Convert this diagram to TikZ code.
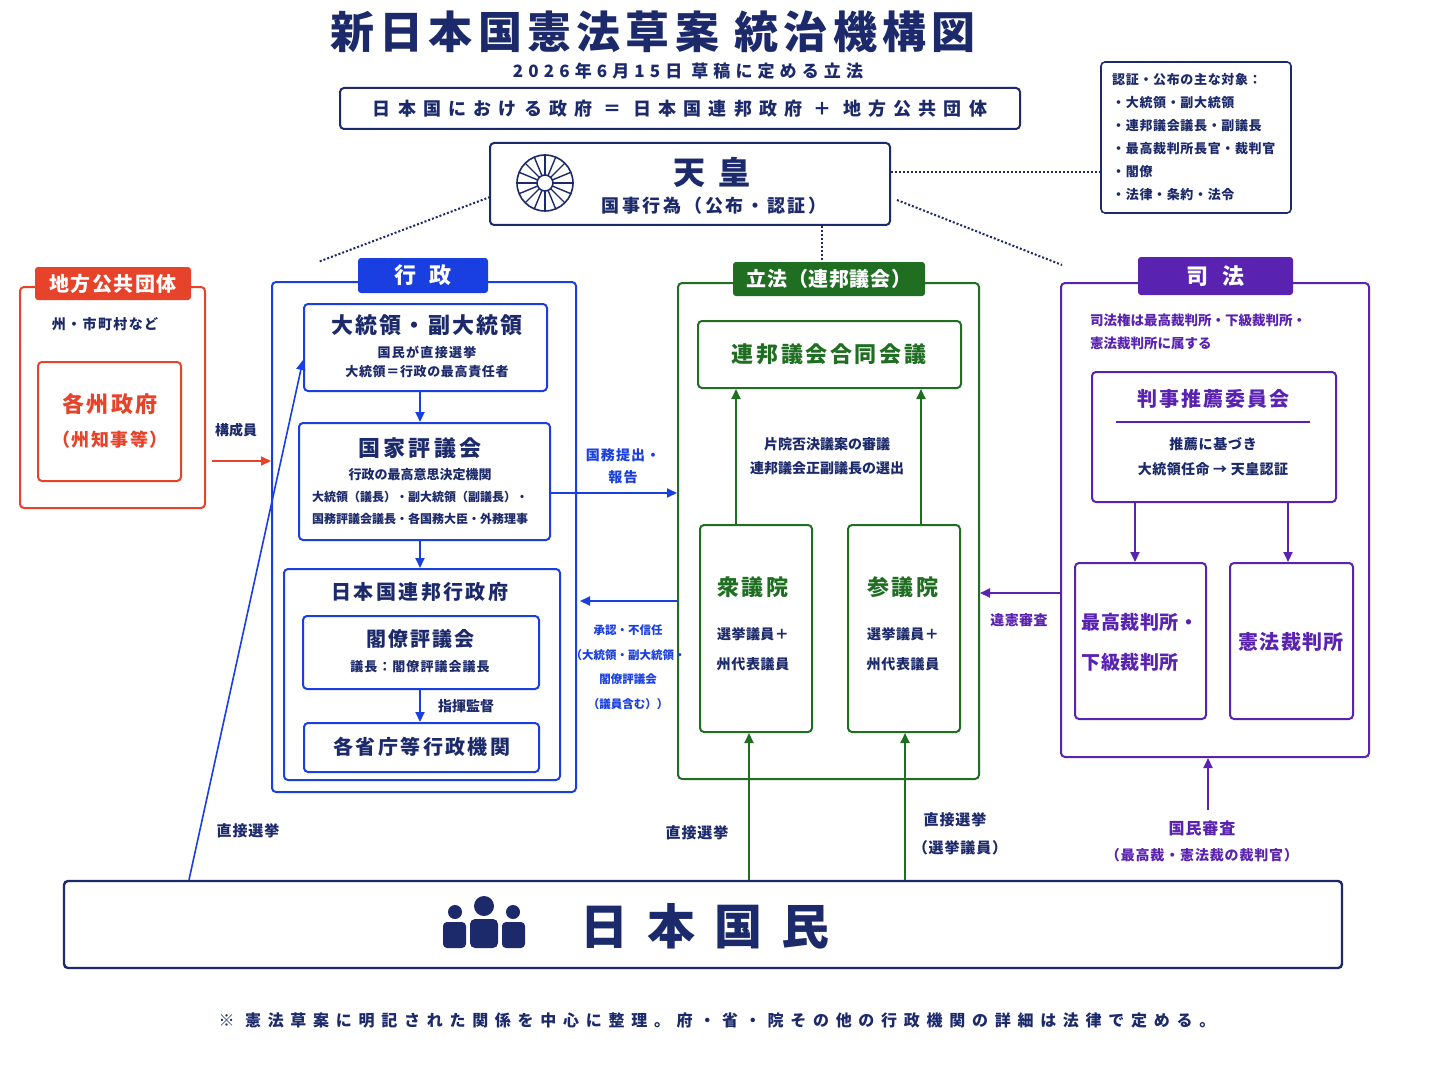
\documentclass[tikz,border=0pt]{standalone}
\usepackage{fontspec}
\setmainfont{Noto Sans CJK JP}
\usetikzlibrary{positioning, arrows.meta, calc}

\definecolor{navy}{HTML}{1C2A6B}
\definecolor{exblue}{HTML}{1A3FE0}
\definecolor{legreen}{HTML}{1F6E22}
\definecolor{jupurple}{HTML}{5A22B0}
\definecolor{locred}{HTML}{E6432A}
\newcommand{\fsz}[2]{\fontsize{#1}{\the\dimexpr #1pt*5/4\relax}\selectfont\bfseries\addfontfeature{LetterSpace=#2}}

\tikzset{
  box/.style={draw, rounded corners=4, line width=2, inner sep=0},
  tab/.style={rounded corners=3, inner sep=0, text=white},
  txt/.style={inner sep=0, align=center},
  arr/.style={-{Triangle[length=10,width=9]}, line width=2},
  dots/.style={dotted, line width=2, navy}
}

\begin{document}
\begin{tikzpicture}[x=1pt, y=-1pt]
    \useasboundingbox[fill=white] (0,0) rectangle (1448,1086);

    % Title
    \node[txt, navy, font=\fsz{44}{12}] (title) at (653,32) {新日本国憲法草案 統治機構図};
    \node[txt, navy, font=\fsz{17}{30}] (date) at (688,71) {2026年6月15日 草稿に定める立法};
    \node[box, navy, minimum width=680, minimum height=41] (gov) at (680,108.5) {};
    \node[txt, navy, font=\fsz{18}{40}] at (gov) {日本国における政府 ＝ 日本国連邦政府 ＋ 地方公共団体};

    % Emperor
    \node[box, navy, minimum width=400, minimum height=82] (tenno) at (690,184) {};
    \draw[navy, line width=1.6] (545,183) circle (28) circle (8);
    \foreach \a in {0,22.5,...,337.5}
        \draw[navy, line width=1.4] ($(545,183)+(\a:8)$) -- ($(545,183)+(\a:28)$);
    \node[txt, navy, font=\fsz{32}{40}] at (712,172) {天皇};
    \node[txt, navy, font=\fsz{18}{15}] at (714,206) {国事行為（公布・認証）};

    % Objects of attestation
    \node[box, navy, minimum width=190, minimum height=151, line width=1.6] (obj) at (1196,137.5) {};
    \node[txt, navy, align=left, anchor=north west, font={\fontsize{13}{23}\selectfont\bfseries\addfontfeature{LetterSpace=5}}] at (1112,73)
        {認証・公布の主な対象：\\・大統領・副大統領\\・連邦議会議長・副議長\\・最高裁判所長官・裁判官\\・閣僚\\・法律・条約・法令};
    \draw[dots] (tenno.east |- 0,172) -- (obj.west |- 0,172);
    \draw[dots] (490,197) -- (318,262);
    \draw[dots] (tenno.south -| 822,0) -- (822,260);
    \draw[dots] (897,200) -- (1062,265);

    % Local governments
    \node[box, locred, minimum width=185, minimum height=221] (local) at (112.5,397.5) {};
    \node[tab, fill=locred, minimum width=156, minimum height=33, font=\fsz{20}{8}] (localtab) at (113,283.5) {地方公共団体};
    \node[txt, navy, font=\fsz{14}{10}] at (105,324) {州・市町村など};
    \node[box, locred, minimum width=143, minimum height=119] (state) at (109.5,421.5) {};
    \node[txt, locred, font=\fsz{22}{10}] at (110,404) {各州政府};
    \node[txt, locred, font=\fsz{18}{8}] at (110,440) {（州知事等）};
    \coordinate (memb) at (212,461);
    \node[txt, navy, font=\fsz{14}{0}] at (236,430) {構成員};

    % Executive
    \node[box, exblue, minimum width=304, minimum height=510] (exec) at (424,537) {};
    \node[tab, fill=exblue, minimum width=130, minimum height=35, font=\fsz{22}{60}] (exectab) at (423,275.5) {行政};
    \draw[arr, locred] (memb) -- (memb -| exec.west);
    \node[box, exblue, minimum width=243, minimum height=87] (pres) at (425.5,347.5) {};
    \node[txt, navy, font=\fsz{22}{10}] at (427,325) {大統領・副大統領};
    \node[txt, navy, font=\fsz{13}{10}] at (427,352) {国民が直接選挙};
    \node[txt, navy, font=\fsz{13}{5}] at (427,372) {大統領＝行政の最高責任者};
    \node[box, exblue, minimum width=251, minimum height=117] (state council) at (424.5,481.5) {};
    \node[txt, navy, font=\fsz{22}{15}] at (420,448) {国家評議会};
    \node[txt, navy, font=\fsz{13}{0}] at (420,475) {行政の最高意思決定機関};
    \node[txt, navy, font=\fsz{12}{0}] at (420,497) {大統領（議長）・副大統領（副議長）・};
    \node[txt, navy, font=\fsz{12}{0}] at (420,519) {国務評議会議長・各国務大臣・外務理事};
    \draw[arr, exblue] (pres.south -| 420,0) -- (state council.north -| 420,0);
    \node[box, exblue, minimum width=276, minimum height=211] (fedexec) at (422,674.5) {};
    \node[txt, navy, font=\fsz{20}{12}] at (420,592) {日本国連邦行政府};
    \draw[arr, exblue] (state council.south -| 420,0) -- (fedexec.north -| 420,0);
    \node[box, exblue, minimum width=236, minimum height=73] (cabinet) at (421,652.5) {};
    \node[txt, navy, font=\fsz{20}{10}] at (420,639) {閣僚評議会};
    \node[txt, navy, font=\fsz{13}{8}] at (420,667) {議長：閣僚評議会議長};
    \node[box, exblue, minimum width=235, minimum height=49] (ministries) at (421.5,747.5) {};
    \node[txt, navy, font=\fsz{20}{12}] at (422,747) {各省庁等行政機関};
    \draw[arr, exblue] (cabinet.south -| 420,0) -- (ministries.north -| 420,0);
    \node[txt, navy, font=\fsz{14}{0}] at (466,706) {指揮監督};

    % Legislature
    \node[box, legreen, minimum width=301, minimum height=496] (legis) at (828.5,531) {};
    \node[tab, fill=legreen, minimum width=192, minimum height=34, font=\fsz{20}{3}] (legistab) at (829,279) {立法（連邦議会）};
    \node[box, legreen, minimum width=263, minimum height=67] (joint) at (829.5,354.5) {};
    \node[txt, legreen, font=\fsz{22}{12}] at (829,354) {連邦議会合同会議};
    \node[box, legreen, minimum width=112, minimum height=207] (lower) at (756,628.5) {};
    \node[txt, legreen, font=\fsz{22}{10}] at (753,587) {衆議院};
    \node[txt, navy, font=\fsz{14}{3}] at (753,634) {選挙議員＋};
    \node[txt, navy, font=\fsz{14}{5}] at (753,664) {州代表議員};
    \node[box, legreen, minimum width=112, minimum height=207] (upper) at (904,628.5) {};
    \node[txt, legreen, font=\fsz{22}{10}] at (903,587) {参議院};
    \node[txt, navy, font=\fsz{14}{3}] at (903,634) {選挙議員＋};
    \node[txt, navy, font=\fsz{14}{5}] at (903,664) {州代表議員};
    \draw[arr, legreen] (lower.north -| 736,0) -- (joint.south -| 736,0);
    \draw[arr, legreen] (upper.north -| 921,0) -- (joint.south -| 921,0);
    \node[txt, navy, font=\fsz{14}{0}] at (827,444) {片院否決議案の審議};
    \node[txt, navy, font=\fsz{14}{0}] at (827,468) {連邦議会正副議長の選出};

    % Executive <-> Legislature
    \draw[arr, exblue] (state council.east |- 0,493) -- (legis.west |- 0,493);
    \node[txt, exblue, font={\fontsize{14}{22}\selectfont\bfseries\addfontfeature{LetterSpace=8}}] at (623,466) {国務提出・\\報告};
    \draw[arr, exblue] (legis.west |- 0,601) -- (580,601);
    \node[txt, exblue, font={\fontsize{11.5}{24.5}\selectfont\bfseries}] at (628,667)
        {承認・不信任\\（大統領・副大統領・\\閣僚評議会\\（議員含む））};

    % Judiciary
    \node[box, jupurple, minimum width=308, minimum height=474] (judic) at (1215,520) {};
    \node[tab, fill=jupurple, minimum width=155, minimum height=38, font=\fsz{22}{60}] (judictab) at (1215.5,276) {司法};
    \node[txt, jupurple, align=left, anchor=west, font={\fontsize{13.5}{23}\selectfont\bfseries}] at (1090,331.5)
        {司法権は最高裁判所・下級裁判所・\\憲法裁判所に属する};
    \node[box, jupurple, minimum width=244, minimum height=130] (jrc) at (1214,437) {};
    \node[txt, jupurple, font=\fsz{20}{10}] at (1213,399) {判事推薦委員会};
    \draw[jupurple, line width=1.4] (1116,422) -- (1310,422);
    \node[txt, navy, font=\fsz{14}{5}] at (1213,444) {推薦に基づき};
    \node[txt, navy, font=\fsz{14}{3}] at (1213,469) {大統領任命 → 天皇認証};
    \node[box, jupurple, minimum width=131, minimum height=156] (supreme) at (1140.5,641) {};
    \node[txt, jupurple, align=left, font={\fontsize{19}{40}\selectfont\bfseries\addfontfeature{LetterSpace=3}}] at (1140,642)
        {最高裁判所・\\下級裁判所};
    \node[box, jupurple, minimum width=123, minimum height=156] (constc) at (1291.5,641) {};
    \node[txt, jupurple, font=\fsz{20}{6}] at (1291,642) {憲法裁判所};
    \draw[arr, jupurple] (jrc.south -| 1135,0) -- (supreme.north -| 1135,0);
    \draw[arr, jupurple] (jrc.south -| 1288,0) -- (constc.north -| 1288,0);
    \draw[arr, jupurple] (judic.west |- 0,593) -- (legis.east |- 0,593);
    \node[txt, jupurple, font=\fsz{14}{3}] at (1019,620) {違憲審査};

    % People
    \node[box, navy, minimum width=1278, minimum height=87, line width=2.4] (people) at (703,924.5) {};
    \begin{scope}[navy]
        \fill (455,912) circle (7) (513,912) circle (7) (484,906) circle (10);
        \fill[rounded corners=4] (443,922) rectangle (466,948) (502,922) rectangle (525,948);
        \fill[rounded corners=5] (470,919) rectangle (498,948);
    \end{scope}
    \node[txt, navy, font=\fsz{48}{40}] at (705,926) {日本国民};
    \draw[arr, exblue, line width=1.6] (people.north -| 189,0) -- (pres.west |- 0,360);
    \node[txt, navy, font=\fsz{15}{6}] at (248,831) {直接選挙};
    \draw[arr, legreen] (people.north -| 749,0) -- (lower.south -| 749,0);
    \draw[arr, legreen] (people.north -| 905,0) -- (upper.south -| 905,0);
    \node[txt, navy, font=\fsz{15}{6}] at (697,833) {直接選挙};
    \node[txt, navy, font=\fsz{15}{6}] at (955,820) {直接選挙};
    \node[txt, navy, font=\fsz{15}{6}] at (960,848) {（選挙議員）};
    \coordinate (review) at (1208,810);
    \draw[arr, jupurple] (review) -- (review |- judic.south);
    \node[txt, jupurple, font=\fsz{16}{6}] at (1202,828) {国民審査};
    \node[txt, jupurple, font=\fsz{14}{6}] at (1202,855) {（最高裁・憲法裁の裁判官）};

    % Footnote
    \node[txt, navy, font=\fsz{16}{42}] (note) at (717,1020) {※ 憲法草案に明記された関係を中心に整理。府・省・院その他の行政機関の詳細は法律で定める。};
\end{tikzpicture}
\end{document}
